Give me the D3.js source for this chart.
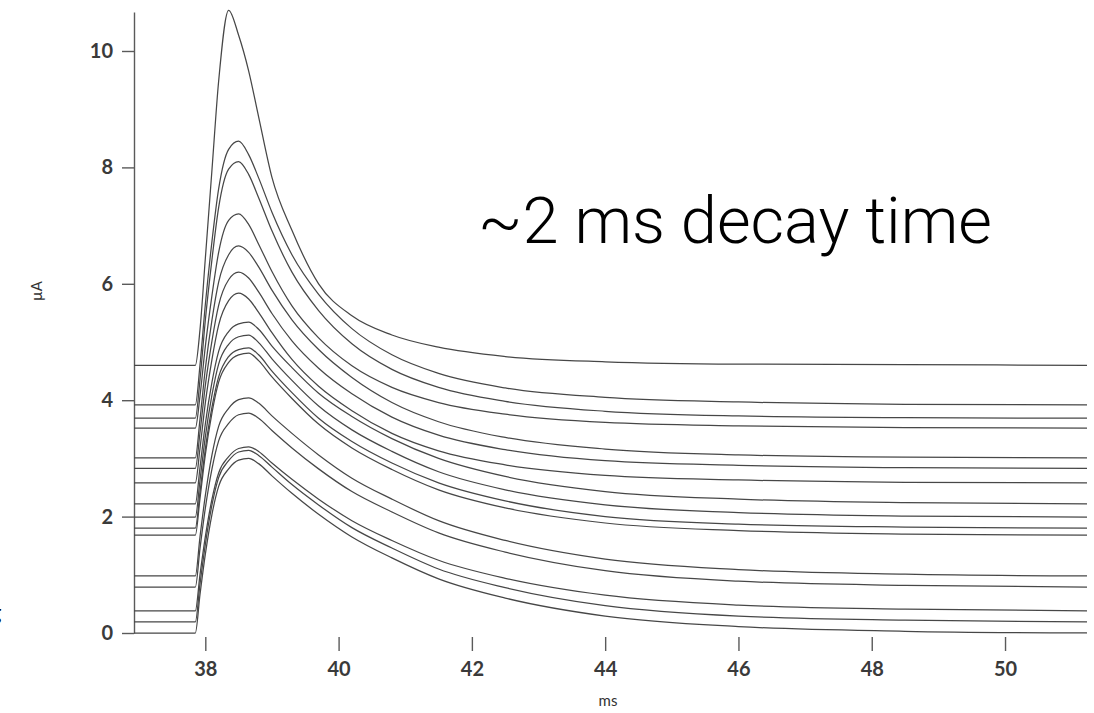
<!DOCTYPE html>
<html>
<head>
<meta charset="utf-8">
<script src="https://cdn.jsdelivr.net/npm/d3@7"></script>
<style>
  body { margin: 0; background: #fff; }
  svg { display: block; }
  .axis text { font-family: Lato, "Open Sans", sans-serif; font-weight: 700; fill: #3a3a3a; }
  .axis line, .axis path { stroke: #5a5a5a; stroke-width: 1.4; }
  .trace { fill: none; stroke: #474747; stroke-width: 1.25; }
</style>
</head>
<body>
<svg id="chart" width="1094" height="713"></svg>
<script>
// sample times (ms)
var times = [36.93, 37.85, 37.92, 38.0, 38.1, 38.2, 38.35, 38.5, 38.65, 38.8, 39.0, 39.3, 39.7, 40.2, 40.8, 41.5, 42.5, 44.0, 46.0, 48.5, 51.23];

// currents (uA), top to bottom
var trace01 = [4.60, 4.60, 5.21, 6.43, 7.96, 9.48, 10.70, 10.27, 9.66, 8.87, 7.83, 6.92, 6.00, 5.45, 5.12, 4.91, 4.75, 4.66, 4.62, 4.61, 4.60];
var trace02 = [3.92, 3.92, 4.60, 5.64, 6.73, 7.63, 8.31, 8.45, 8.22, 7.82, 7.23, 6.50, 5.82, 5.23, 4.78, 4.46, 4.21, 4.05, 3.97, 3.93, 3.92];
var trace03 = [3.69, 3.69, 4.35, 5.37, 6.42, 7.31, 7.97, 8.10, 7.88, 7.48, 6.91, 6.20, 5.54, 4.97, 4.53, 4.22, 3.98, 3.81, 3.73, 3.70, 3.69];
var trace04 = [3.52, 3.52, 4.07, 4.92, 5.80, 6.54, 7.09, 7.20, 7.02, 6.68, 6.21, 5.62, 5.07, 4.59, 4.22, 3.96, 3.76, 3.62, 3.56, 3.53, 3.52];
var trace05 = [3.01, 3.01, 3.67, 4.54, 5.38, 6.03, 6.50, 6.65, 6.54, 6.29, 5.89, 5.38, 4.87, 4.39, 3.96, 3.63, 3.36, 3.16, 3.06, 3.02, 3.01];
var trace06 = [2.83, 2.83, 3.44, 4.25, 5.02, 5.63, 6.07, 6.20, 6.10, 5.86, 5.49, 5.02, 4.55, 4.11, 3.71, 3.40, 3.15, 2.96, 2.88, 2.84, 2.83];
var trace07 = [2.58, 2.58, 3.17, 3.95, 4.70, 5.29, 5.71, 5.84, 5.74, 5.51, 5.16, 4.70, 4.24, 3.82, 3.43, 3.13, 2.89, 2.71, 2.63, 2.59, 2.58];
var trace08 = [2.22, 2.22, 2.84, 3.59, 4.31, 4.84, 5.18, 5.31, 5.34, 5.22, 4.93, 4.56, 4.12, 3.72, 3.34, 3.00, 2.69, 2.43, 2.30, 2.24, 2.22];
var trace09 = [1.99, 1.99, 2.62, 3.37, 4.09, 4.62, 4.96, 5.09, 5.12, 4.99, 4.71, 4.34, 3.90, 3.49, 3.12, 2.77, 2.46, 2.20, 2.07, 2.01, 1.99];
var trace10 = [1.80, 1.80, 2.42, 3.16, 3.88, 4.40, 4.75, 4.87, 4.90, 4.78, 4.50, 4.13, 3.69, 3.29, 2.92, 2.58, 2.27, 2.00, 1.87, 1.82, 1.80];
var trace11 = [1.68, 1.68, 2.31, 3.06, 3.78, 4.31, 4.65, 4.78, 4.81, 4.68, 4.40, 4.03, 3.59, 3.18, 2.81, 2.46, 2.15, 1.89, 1.76, 1.70, 1.68];
var trace12 = [0.98, 0.98, 1.65, 2.36, 3.06, 3.55, 3.86, 4.01, 4.04, 3.95, 3.73, 3.43, 3.06, 2.66, 2.30, 1.93, 1.59, 1.27, 1.09, 1.01, 0.98];
var trace13 = [0.79, 0.79, 1.45, 2.14, 2.82, 3.30, 3.60, 3.75, 3.78, 3.69, 3.48, 3.18, 2.82, 2.43, 2.08, 1.72, 1.39, 1.07, 0.89, 0.82, 0.79];
var trace14 = [0.38, 0.38, 1.00, 1.65, 2.30, 2.75, 3.03, 3.17, 3.20, 3.12, 2.92, 2.64, 2.30, 1.93, 1.59, 1.25, 0.94, 0.65, 0.48, 0.41, 0.38];
var trace15 = [0.19, 0.19, 0.84, 1.52, 2.20, 2.67, 2.96, 3.11, 3.14, 3.05, 2.85, 2.55, 2.20, 1.81, 1.46, 1.10, 0.78, 0.47, 0.29, 0.22, 0.19];
var trace16 = [0.00, 0.00, 0.66, 1.35, 2.04, 2.52, 2.82, 2.97, 3.00, 2.91, 2.70, 2.40, 2.04, 1.65, 1.29, 0.93, 0.60, 0.29, 0.11, 0.03, 0.00];

var traces = [trace01, trace02, trace03, trace04, trace05, trace06, trace07, trace08,
              trace09, trace10, trace11, trace12, trace13, trace14, trace15, trace16];

var xTicks = [38, 40, 42, 44, 46, 48, 50];
var yTicks = [0, 2, 4, 6, 8, 10];
var xLabel = "ms", yLabel = "\u00b5A", note = "~2 ms decay time";

var svg = d3.select("#chart");

var x = d3.scaleLinear().domain([36.93, 51.23]).range([134, 1087]);
var y = d3.scaleLinear().domain([0, 10.67]).range([633, 12]);

// y axis with its spine
var yaxis = svg.append("g")
    .attr("class", "axis axis--y")
    .attr("transform", "translate(134,0)")
    .call(d3.axisLeft(y).tickValues(yTicks).tickSize(12).tickSizeOuter(0).tickPadding(9).tickFormat(d3.format("d")));
yaxis.selectAll("text").style("font-size", "20px");

// x axis: ticks only, no spine
var xaxis = svg.append("g")
    .attr("class", "axis axis--x")
    .attr("transform", "translate(0,637)")
    .call(d3.axisBottom(x).tickValues(xTicks).tickSize(14).tickPadding(11).tickFormat(d3.format("d")));
xaxis.select(".domain").remove();
xaxis.selectAll("text").style("font-size", "20px");

var line = d3.line()
    .x(function(d, i) { return x(times[i]); })
    .y(function(d) { return y(d); })
    .curve(d3.curveMonotoneX);

svg.append("g").selectAll(".trace").data(traces)
  .enter().append("path")
    .attr("class", "trace")
    .attr("d", line);

// axis titles
svg.append("text")
    .attr("transform", "translate(42,291) rotate(-90)")
    .attr("text-anchor", "middle")
    .style("font-family", "Lato, sans-serif")
    .style("font-size", "15px")
    .style("fill", "#333")
    .text(yLabel);

svg.append("text")
    .attr("x", 608)
    .attr("y", 706)
    .attr("text-anchor", "middle")
    .style("font-family", "Lato, sans-serif")
    .style("font-size", "15px")
    .style("fill", "#333")
    .text(xLabel);

// annotation
svg.append("text")
    .attr("x", 478)
    .attr("y", 243)
    .style("font-family", "Roboto, 'Open Sans', sans-serif")
    .style("font-weight", 300)
    .style("font-size", "65px")
    .style("fill", "#000")
    .text(note);

// stray glyph cut off at the left edge
svg.append("text")
    .attr("x", -10)
    .attr("y", 620)
    .style("font-family", "Lato, sans-serif")
    .style("font-size", "22px")
    .style("fill", "#000")
    .text("g");
</script>
</body>
</html>
